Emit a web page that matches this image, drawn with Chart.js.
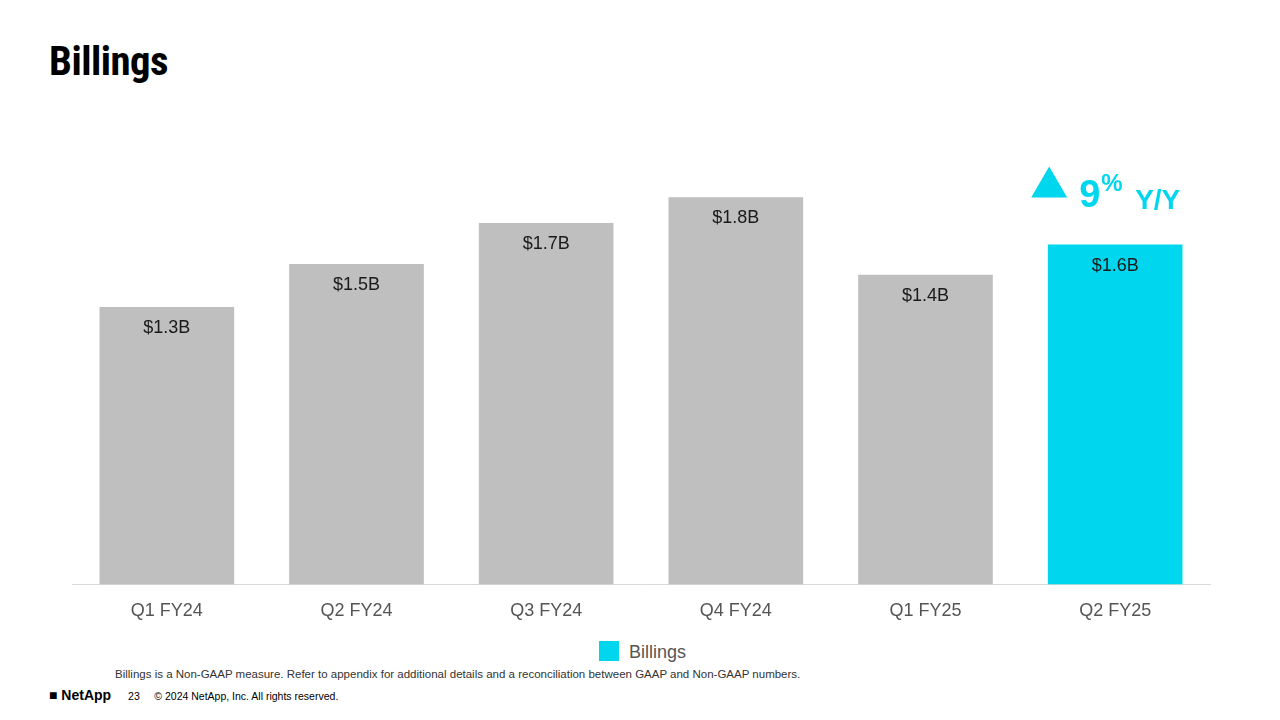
<!DOCTYPE html>
<html>
<head>
<meta charset="utf-8">
<script src="https://cdn.jsdelivr.net/npm/chart.js@4/dist/chart.umd.min.js"></script>
<style>
	body { margin: 0; width: 1280px; height: 720px; background: #fff; font-family: "Liberation Sans", Arial, sans-serif; position: relative; overflow: hidden; }
	#title { position: absolute; left: 49px; top: 38px; font-family: "Roboto Condensed", "Liberation Sans Narrow", "Roboto", sans-serif; font-weight: 700; font-size: 40px; color: #000; letter-spacing: -0.5px; transform: scaleX(1.02); transform-origin: left; }
	#wrap { position: absolute; left: 60px; top: 150px; width: 1160px; height: 480px; }
	#legend { position: absolute; left: 599px; top: 641px; font-size: 18px; color: #555; }
	#legend span { display: inline-block; width: 20px; height: 20px; background: #00d7ef; vertical-align: -3px; margin-right: 10px; }
	#note { position: absolute; left: 115px; top: 668px; font-size: 11.5px; color: #333; }
	#foot { position: absolute; left: 49px; top: 687px; font-size: 10.5px; color: #000; }
	#foot b { font-size: 14px; margin-right: 14px; }
</style>
</head>
<body>
<div id="title">Billings</div>
<div id="wrap"><canvas id="billingsChart"></canvas></div>
<div id="legend"><span></span>Billings</div>
<div id="note">Billings is a Non-GAAP measure. Refer to appendix for additional details and a reconciliation between GAAP and Non-GAAP numbers.</div>
<div id="foot"><b>&#9632; NetApp</b> 23 &nbsp;&nbsp;&nbsp; © 2024 NetApp, Inc. All rights reserved.</div>
<script>
const quarters = [ 'Q1 FY24', 'Q2 FY24', 'Q3 FY24', 'Q4 FY24', 'Q1 FY25', 'Q2 FY25' ];
const billings = [ 1.29, 1.49, 1.68, 1.80, 1.44, 1.58 ];
const valueLabels = [ '$1.3B', '$1.5B', '$1.7B', '$1.8B', '$1.4B', '$1.6B' ];
const barColors = [ '#bfbfbf', '#bfbfbf', '#bfbfbf', '#bfbfbf', '#bfbfbf', '#00d7ef' ];

// Value labels inside bars plus the Y/Y callout
const labelPlugin = {
	id: 'labels',
	afterDatasetsDraw( chart ) {
		const ctx = chart.ctx;
		const meta = chart.getDatasetMeta( 0 );
		ctx.save();
		ctx.font = '18px "Liberation Sans", Arial, sans-serif';
		ctx.fillStyle = '#1a1a1a';
		ctx.textAlign = 'center';
		ctx.textBaseline = 'middle';
		meta.data.forEach( ( bar, i ) => {
			ctx.fillText( valueLabels[ i ], bar.x, bar.y + 21 );
		} );
		const last = meta.data[ meta.data.length - 1 ];
		const tx = last.x - 66;
		const ty = last.y - 62;
		ctx.fillStyle = '#00d7ef';
		ctx.beginPath();
		ctx.moveTo( tx - 18, ty + 15 );
		ctx.lineTo( tx + 18, ty + 15 );
		ctx.lineTo( tx, ty - 16 );
		ctx.closePath();
		ctx.fill();
		ctx.textAlign = 'left';
		ctx.textBaseline = 'alphabetic';
		ctx.font = 'bold 38px "Liberation Sans", Arial, sans-serif';
		ctx.fillText( '9', tx + 30, ty + 24 );
		ctx.font = 'bold 24px "Liberation Sans", Arial, sans-serif';
		ctx.fillText( '%', tx + 52, ty + 8 );
		ctx.font = 'bold 28px "Liberation Sans", Arial, sans-serif';
		ctx.fillText( 'Y/Y', tx + 86, ty + 26 );
		ctx.restore();
	},
};

new Chart( document.getElementById( 'billingsChart' ), {
	type: 'bar',
	data: {
		labels: quarters,
		datasets: [ {
			label: 'Billings',
			data: billings,
			backgroundColor: barColors,
			categoryPercentage: 1,
			barPercentage: 0.71,
		} ],
	},
	options: {
		responsive: true,
		maintainAspectRatio: false,
		animation: false,
		layout: { padding: { left: 12, right: 10 } },
		plugins: { legend: { display: false }, tooltip: { enabled: false } },
		scales: {
			x: {
				grid: { display: false },
				border: { color: '#d9d9d9' },
				ticks: { color: '#555', font: { size: 18, family: '"Liberation Sans", Arial, sans-serif' }, padding: 8 },
			},
			y: { display: false, min: 0, max: 2.02 },
		},
	},
	plugins: [ labelPlugin ],
} );
</script>
</body>
</html>
